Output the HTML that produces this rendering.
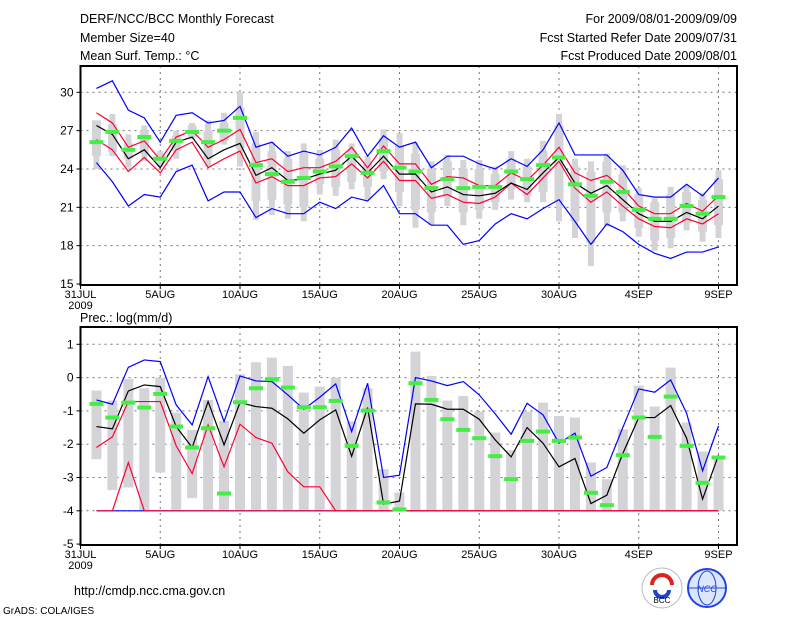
<!DOCTYPE html>
<html><head><meta charset="utf-8"><style>
body{margin:0;background:#fff;}
svg{display:block;font-family:"Liberation Sans",sans-serif;}
</style></head><body>
<svg id="c" width="800" height="618" viewBox="0 0 800 618">
<g font-size="12.5" fill="#000">
<text x="80" y="23">DERF/NCC/BCC Monthly Forecast</text>
<text x="80" y="42">Member Size=40</text>
<text x="80" y="60">Mean Surf. Temp.: °C</text>
<text x="737" y="23" text-anchor="end">For 2009/08/01-2009/09/09</text>
<text x="737" y="42" text-anchor="end">Fcst Started Refer Date 2009/07/31</text>
<text x="737" y="60" text-anchor="end">Fcst Produced Date 2009/08/01</text>
<text x="80" y="322">Prec.: log(mm/d)</text>
<text x="74" y="595">http://cmdp.ncc.cma.gov.cn</text>
<text x="3" y="614" font-size="10">GrADS: COLA/IGES</text>
</g>
<g><circle cx="662" cy="588" r="20" fill="#fff" stroke="#bbb"/><path d="M652 585 a10 10 0 0 1 20 0" stroke="#d22" stroke-width="4" fill="none"/><path d="M655 590 a7 7 0 0 0 14 0" stroke="#24c" stroke-width="4" fill="none"/><text x="662" y="603" font-size="8" text-anchor="middle">BCC</text></g>
<g><circle cx="707" cy="588" r="19" fill="#dde6ff" stroke="#2244dd" stroke-width="2"/><ellipse cx="707" cy="588" rx="9" ry="17" fill="none" stroke="#2244dd"/><line x1="689" y1="588" x2="725" y2="588" stroke="#2244dd"/><text x="707" y="592" font-size="9" text-anchor="middle" fill="#2244dd" font-style="italic">NCC</text></g>
<g id="g"></g>
</svg>
<script>
const days=[1,2,3,4,5,6,7,8,9,10,11,12,13,14,15,16,17,18,19,20,21,22,23,24,25,26,27,28,29,30,31,32,33,34,35,36,37,38,39,40];
const xTickDays=[0,5,10,15,20,25,30,35,40];
const xTickLabels=["31JUL","5AUG","10AUG","15AUG","20AUG","25AUG","30AUG","4SEP","9SEP"];
const tTicks=[15,18,21,24,27,30];
const pTicks=[1,0,-1,-2,-3,-4,-5];
// temperature
const tMax=[30.3,30.9,28.6,28.0,26.1,28.2,28.4,27.6,27.8,28.9,25.7,26.1,25.0,25.4,25.1,25.7,27.2,25.0,26.6,25.7,26.1,24.1,25.0,25.0,24.4,24.0,24.8,24.2,25.5,27.6,25.1,25.1,25.1,23.9,22.0,21.8,21.8,22.8,21.9,23.3];
const tMin=[24.5,23.0,21.1,22.0,21.8,23.8,24.3,21.5,22.2,22.2,20.2,20.9,20.5,20.5,21.4,20.9,21.8,21.5,22.7,20.5,20.5,19.6,19.6,18.1,18.4,19.7,20.5,20.1,20.9,21.6,19.9,18.1,19.7,19.1,18.1,17.4,17.0,17.5,17.5,17.9];
const tUp=[28.4,27.6,25.7,26.2,24.7,26.5,27.0,25.7,26.3,27.1,24.5,24.8,23.8,24.1,24.1,24.6,25.7,24.1,25.8,24.4,24.4,22.8,23.4,23.3,22.7,22.7,23.7,23.1,24.3,25.7,23.7,23.1,23.5,22.5,21.1,20.5,20.5,21.3,20.7,21.9];
const tLow=[26.3,25.5,23.8,24.9,23.7,25.5,26.1,24.1,24.8,25.4,22.9,23.4,22.7,22.7,23.3,23.4,24.4,23.3,24.6,23.1,23.1,21.7,22.0,21.4,21.3,21.8,22.9,22.0,23.3,24.6,22.5,21.4,22.2,21.1,20.1,19.5,19.4,20.1,19.7,20.5];
const tMean=[27.4,26.7,24.8,25.5,24.1,26.1,26.5,24.8,25.5,26.0,23.5,24.1,23.1,23.2,23.6,23.9,25.0,23.7,25.0,23.6,23.6,22.2,22.6,22.0,21.9,22.1,22.9,22.4,23.7,24.9,22.9,22.1,22.7,21.6,20.5,19.9,19.9,20.6,20.1,21.1];
const tObs=[26.1,26.9,25.5,26.5,24.8,26.2,26.9,26.1,27.0,28.0,24.3,23.6,23.0,23.3,23.8,24.2,25.0,23.7,25.4,24.1,23.8,22.5,23.2,22.5,22.6,22.6,23.8,23.2,24.3,24.9,22.8,21.9,23.0,22.2,20.8,20.1,20.1,21.1,20.5,21.8];
const tWhiHi=[27.8,28.3,26.7,27.4,25.4,27.0,27.6,27.8,28.4,30.0,26.9,26.1,25.4,26.0,25.5,26.3,26.0,25.0,27.1,26.8,26.1,24.6,25.1,24.7,24.7,24.2,25.4,24.8,26.2,28.3,24.8,24.6,25.2,24.3,22.5,21.7,22.6,22.7,22.1,23.9];
const tWhiLo=[24.0,25.0,24.1,24.6,24.2,24.8,26.3,24.2,25.9,24.2,20.0,20.4,20.1,19.9,22.0,21.9,22.4,21.6,23.2,21.1,19.4,19.6,21.1,19.6,20.1,20.8,21.6,21.4,21.4,19.9,18.6,16.4,19.5,19.9,18.7,17.6,17.8,19.2,18.3,18.6];
const tBoxHi=[27.8,27.5,26.0,27.0,25.2,26.6,27.4,27.0,27.6,28.8,26.0,25.4,24.8,25.2,24.8,25.5,25.5,24.6,26.4,25.8,25.2,24.0,24.6,24.0,24.0,23.6,24.8,24.2,25.4,27.4,24.2,23.8,24.6,23.6,22.0,21.4,22.0,22.2,21.6,23.2];
const tBoxLo=[25.0,25.3,24.8,25.2,24.6,25.4,26.5,24.8,26.2,25.6,21.5,21.6,21.2,21.0,22.8,22.6,23.0,22.6,23.8,22.2,20.8,20.6,21.8,20.6,20.8,21.4,22.4,21.9,22.2,21.4,19.9,18.2,20.6,20.6,19.4,18.4,18.6,19.8,19.1,19.6];
// precipitation (log)
const pMax=[-0.67,-0.8,0.31,0.53,0.48,-0.82,-1.42,0.03,-1.32,0.05,-0.1,-0.12,-0.52,-0.95,-0.59,-0.19,-1.62,-0.17,-3.0,-2.93,0.0,-0.1,-0.24,-0.12,-0.52,-1.09,-1.7,-0.77,-1.12,-1.97,-1.67,-2.96,-2.7,-1.5,-0.34,-0.44,-0.07,-1.07,-2.8,-1.45];
const pMean=[-1.47,-1.54,-0.4,-0.22,-0.27,-1.47,-2.1,-0.72,-2.02,-0.75,-0.87,-0.92,-1.24,-1.67,-1.27,-0.97,-2.36,-0.9,-3.8,-3.71,-0.79,-0.8,-0.95,-0.95,-1.25,-1.87,-2.38,-1.5,-1.97,-2.68,-2.43,-3.78,-3.53,-2.28,-1.2,-1.2,-0.84,-1.82,-3.65,-2.33];
const pUp=[-2.1,-1.78,-0.72,-0.72,-0.72,-2.05,-2.88,-1.42,-2.68,-1.4,-1.8,-1.97,-2.83,-3.28,-3.28,-4,-4,-4,-4,-4,-4,-4,-4,-4,-4,-4,-4,-4,-4,-4,-4,-4,-4,-4,-4,-4,-4,-4,-4,-4];
const pLow=[-4,-4,-2.55,-4,-4,-4,-4,-4,-4,-4,-4,-4,-4,-4,-4,-4,-4,-4,-4,-4,-4,-4,-4,-4,-4,-4,-4,-4,-4,-4,-4,-4,-4,-4,-4,-4,-4,-4,-4,-4];
const pMin=[-4,-4,-4,-4,-4,-4,-4,-4,-4,-4,-4,-4,-4,-4,-4,-4,-4,-4,-4,-4,-4,-4,-4,-4,-4,-4,-4,-4,-4,-4,-4,-4,-4,-4,-4,-4,-4,-4,-4,-4];
const pObs=[-0.79,-1.2,-0.75,-0.9,-0.49,-1.47,-2.1,-1.52,-3.48,-0.74,-0.32,-0.05,-0.3,-0.89,-0.89,-0.7,-2.05,-0.99,-3.75,-3.96,-0.17,-0.67,-1.25,-1.57,-1.82,-2.36,-3.05,-1.9,-1.62,-1.9,-1.8,-3.46,-3.83,-2.33,-1.2,-1.78,-0.57,-2.05,-3.16,-2.4];
const pBarHi=[-0.39,-0.69,-0.04,-0.32,0.0,-1.05,-1.57,-0.67,-1.3,0.1,0.46,0.6,0.35,-0.45,-0.27,0.0,-1.32,-0.32,-2.75,-3.45,0.78,0.05,-0.69,-0.55,-1.02,-1.65,-2.18,-1.02,-0.75,-1.15,-1.2,-2.55,-3.05,-1.55,-0.24,-0.87,0.3,-1.35,-2.22,-2.36];
const pBarLo=[-2.45,-3.38,-3.3,-4,-2.85,-4,-3.62,-4,-4,-4,-4,-4,-4,-4,-4,-4,-4,-4,-4,-4,-4,-4,-4,-4,-4,-4,-4,-4,-4,-4,-4,-4,-4,-4,-4,-4,-4,-4,-4,-4];

const NS='http://www.w3.org/2000/svg';
const G=document.getElementById('g');
const L=80.5,R=737,DX=15.95;
const X=d=>L+d*DX;
const P1={top:66,bot:285,yv:v=>284-(v-15)*12.78};
const P2={top:327,bot:545,yv:v=>344.3-(v-1)*33.3};
function el(t,a,p){const e=document.createElementNS(NS,t);for(const k in a)e.setAttribute(k,a[k]);(p||G).appendChild(e);return e;}
function panel(P,ticks,name){
  const g=el('g',{});
  
  
  xTickDays.forEach((d,i)=>{
    if(d>0){const l=el('line',{x1:X(d),x2:X(d),y1:P.top,y2:P.bot,stroke:'#777','stroke-dasharray':'2,4'},g);
    
    }
    const t=el('line',{x1:X(d),x2:X(d),y1:P.bot,y2:P.bot+4,stroke:'#000'},g);
    
    
  });
  ticks.forEach(v=>{
    const y=P.yv(v);
    if(y>P.top+2&&y<P.bot-2){const l=el('line',{x1:L,x2:R,y1:y,y2:y,stroke:'#777','stroke-dasharray':'2,4'},g);
    
    }
    const tk=el('line',{x1:L-4,x2:L,y1:y,y2:y,stroke:'#000'},g);
    
    
    const tx=el('text',{x:L-7,y:y+4,'font-size':12,'text-anchor':'end'},g);tx.textContent=String(v);
    
    
  });
  xTickDays.forEach((d,i)=>{
    const tx=el('text',{x:X(d),y:P.bot+13,'font-size':11,'text-anchor':'middle'},g);tx.textContent=xTickLabels[i];
    
    
  });
  const yr=el('text',{x:X(0),y:P.bot+24,'font-size':11,'text-anchor':'middle'},g);yr.textContent='2009';
  
  
  return g;
}
function bars(P,hi,lo,w,name){
  days.forEach((d,i)=>{const y1=P.yv(hi[i]),y2=P.yv(lo[i]);
    const r=el('rect',{x:X(d)-w/2,y:Math.min(y1,y2),width:w,height:Math.abs(y2-y1),fill:'#d4d4d8'});
    
    });
}
function line(P,vals,col,name){
  const p=el('polyline',{points:days.map((d,i)=>X(d)+','+P.yv(vals[i])).join(' '),fill:'none',stroke:col,'stroke-width':1.2});
  
  
}
function obs(P,vals,name){
  days.forEach((d,i)=>{const r=el('rect',{x:X(d)-7,y:P.yv(vals[i])-2,width:14,height:4,fill:'#44ee44'});
    
    });
}
panel(P1,tTicks,'temperature');
bars(P1,tWhiHi,tWhiLo,6,'temp-range-bar');
bars(P1,tBoxHi,tBoxLo,9,'temp-box');
line(P1,tMax,'#0000ff','temp-max-line');
line(P1,tMin,'#0000ff','temp-min-line');
line(P1,tUp,'#ff0033','temp-upper-line');
line(P1,tLow,'#ff0033','temp-lower-line');
line(P1,tMean,'#000','temp-mean-line');
obs(P1,tObs,'temp-observed-marker');
panel(P2,pTicks,'precipitation');
bars(P2,pBarHi,pBarLo,10,'precip-bar');
line(P2,pMax,'#0000ff','precip-max-line');
line(P2,pMin,'#0000ff','precip-min-line');
line(P2,pUp,'#ff0033','precip-upper-line');
line(P2,pLow,'#ff0033','precip-lower-line');
line(P2,pMean,'#000','precip-mean-line');
obs(P2,pObs,'precip-observed-marker');
[P1,P2].forEach(P=>{const f=el('rect',{x:L,y:P.top,width:R-L,height:P.bot-P.top,fill:'none',stroke:'#000','stroke-width':2});
  
  });
</script>
</body></html>
